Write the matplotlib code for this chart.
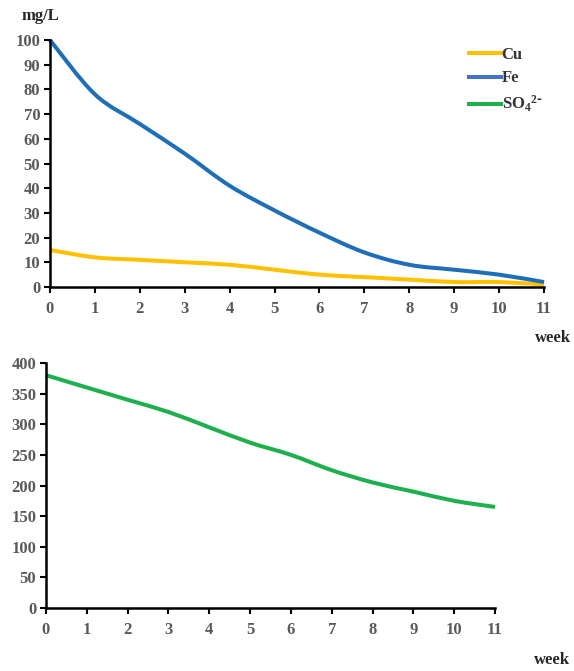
import numpy as np
import matplotlib
matplotlib.use("Agg")
import matplotlib.pyplot as plt
from matplotlib.path import Path
from matplotlib.patches import PathPatch
from matplotlib.lines import Line2D

plt.rcParams['font.family'] = ['Liberation Serif', 'DejaVu Serif']
plt.rcParams['font.weight'] = 'bold'
plt.rcParams['mathtext.default'] = 'regular'

weeks = [0, 1, 2, 3, 4, 5, 6, 7, 8, 9, 10, 11]
cu = [15, 12, 11, 10, 9, 7, 5, 4, 3, 2, 2, 1]
fe = [100, 78, 66, 54, 41, 31, 22, 14, 9, 7, 5, 2]
so4 = [380, 360, 340, 320, 295, 270, 250, 225, 205, 190, 175, 165]

C_CU = '#FFC000'
C_FE = '#1F6FB8'
C_FE_LEG = '#4472C4'
C_SO4 = '#1DB04C'
TICK_C = '#595959'
FS = 12
LW = 2.9


def smooth_line(ax, x, y, color, lw):
    x = np.asarray(x, float)
    y = np.asarray(y, float)
    verts = [(x[0], y[0])]
    codes = [Path.MOVETO]
    n = len(x)
    for i in range(n - 1):
        p0 = (x[i - 1], y[i - 1]) if i > 0 else (x[i], y[i])
        p1 = (x[i], y[i])
        p2 = (x[i + 1], y[i + 1])
        p3 = (x[i + 2], y[i + 2]) if i + 2 < n else (x[i + 1], y[i + 1])
        c1 = (p1[0] + (p2[0] - p0[0]) / 6, p1[1] + (p2[1] - p0[1]) / 6)
        c2 = (p2[0] - (p3[0] - p1[0]) / 6, p2[1] - (p3[1] - p1[1]) / 6)
        verts += [c1, c2, p2]
        codes += [Path.CURVE4] * 3
    patch = PathPatch(Path(verts, codes), facecolor='none', edgecolor=color,
                      lw=lw, capstyle='butt', joinstyle='round', clip_on=False)
    ax.add_patch(patch)


def style_axes(ax, ymax, ystep):
    for s in ['top', 'right']:
        ax.spines[s].set_visible(False)
    for s in ['left', 'bottom']:
        ax.spines[s].set_linewidth(1.8)
        ax.spines[s].set_color('black')
    ax.set_xlim(0, 11)
    ax.set_ylim(0, ymax)
    ax.set_xticks(weeks)
    ax.set_yticks(np.arange(0, ymax + 1, ystep))
    ax.tick_params(axis='both', direction='out', length=4, width=1.5,
                   labelsize=FS, labelcolor=TICK_C, color='black')
    ax.tick_params(axis='x', pad=6)
    ax.tick_params(axis='y', pad=3)
    for lab in ax.get_xticklabels() + ax.get_yticklabels():
        lab.set_fontweight('bold')


fig = plt.figure(figsize=(5.74, 6.71), dpi=100)

ax1 = fig.add_axes([50 / 574, 1 - 287 / 671, (544 - 50) / 574, (287 - 40) / 671])
smooth_line(ax1, weeks, cu, C_CU, LW)
smooth_line(ax1, weeks, fe, C_FE, LW)
style_axes(ax1, 100, 10)
handles = [Line2D([], [], color=C_CU, lw=LW),
           Line2D([], [], color=C_FE_LEG, lw=LW),
           Line2D([], [], color=C_SO4, lw=LW)]
labels = ['Cu', 'Fe', r'SO$_4$$^{2\text{-}}$']
leg = fig.legend(handles, labels, loc='upper left',
                 bbox_to_anchor=(454 / 574, 1 - 32 / 671), frameon=False,
                 handlelength=1.9, handletextpad=0.05, labelspacing=0.45,
                 prop={'weight': 'bold', 'size': FS})
for t in leg.get_texts():
    t.set_color('#333333')
fig.text(40 / 574, 1 - 16 / 671, 'mg/L', ha='center', va='center',
         fontsize=FS, fontweight='bold', color='#262626')
fig.text(553 / 574, 1 - 338 / 671, 'week', ha='center', va='center',
         fontsize=FS, fontweight='bold', color='#262626')

ax2 = fig.add_axes([46 / 574, 1 - 608 / 671, (495 - 46) / 574, (608 - 363) / 671])
smooth_line(ax2, weeks, so4, C_SO4, LW)
style_axes(ax2, 400, 50)
fig.text(552 / 574, 1 - 660 / 671, 'week', ha='center', va='center',
         fontsize=FS, fontweight='bold', color='#262626')

fig.savefig('out.png', dpi=100)
